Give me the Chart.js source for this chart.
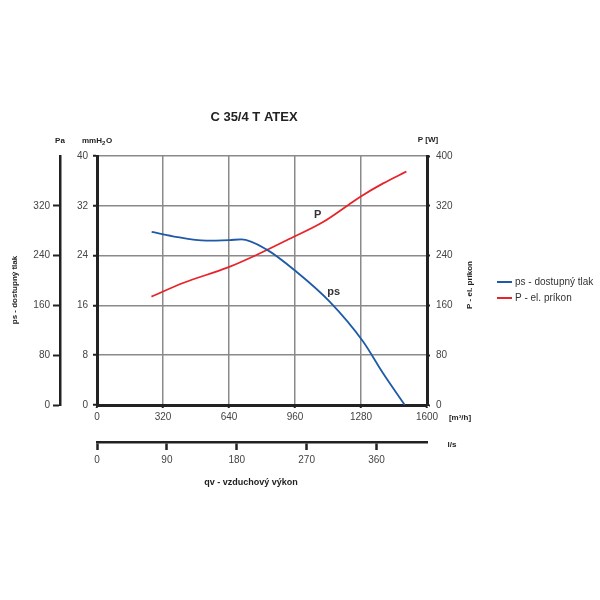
<!DOCTYPE html>
<html>
<head>
<meta charset="utf-8">
<script src="https://cdn.jsdelivr.net/npm/chart.js@4.4.1/dist/chart.umd.min.js"></script>
<style>
  html, body { margin: 0; padding: 0; background: #fff; }
  #wrap { width: 600px; height: 600px; }
</style>
</head>
<body>
<div id="wrap"><canvas id="fanChart" width="600" height="600"></canvas></div>
<script>
// ── Data ──────────────────────────────────────────────────────────
const FLOW_PS = [265, 368, 530, 643, 700, 821, 967, 1128, 1290, 1387, 1492];   // m3/h
const PS_MMH2O = [27.8, 27.1, 26.4, 26.5, 26.6, 25.0, 21.4, 16.6, 10.2, 5.1, 0];
const FLOW_P = [264, 417, 635, 773, 934, 1096, 1217, 1279, 1387, 1500];       // m3/h
const P_WATT = [174, 196, 221, 241, 267, 294, 321, 335, 356, 375];

const FLOW_TICKS = [0, 320, 640, 960, 1280, 1600];
const LS_TICKS = [0, 90, 180, 270, 360];
const MM_TICKS = [0, 8, 16, 24, 32, 40];
const PA_TICKS = [0, 80, 160, 240, 320];
const W_TICKS = [0, 80, 160, 240, 320, 400];

const BLUE = '#1f5aa8';
const RED = '#e8242b';
const INK = '#222';
const GRID = '#8a8a8a';
const FONT = '"Liberation Sans", Arial, sans-serif';

const toPoints = (xs, ys) => xs.map((x, i) => ({ x, y: ys[i] }));
const fixedTicks = list => scale => { scale.ticks = list.map(v => ({ value: v })); };
const plain = v => String(v);

// axis sizes so the plot box sits where the sheet has it
const fixWidth = w => scale => { scale.width = w; };
const fixHeight = h => scale => { scale.height = h; };

// ── Texts that are not part of any axis ───────────────────────────
const sheetText = {
    id: 'sheetText',
    afterDraw(chart) {
        const ctx = chart.ctx;
        const { x, y, y2 } = chart.scales;
        ctx.save();
        ctx.fillStyle = INK;
        ctx.textAlign = 'center';
        ctx.textBaseline = 'middle';

        ctx.font = `bold 13px ${FONT}`;
        ctx.fillText('C 35/4 T ATEX', 254, 117);

        ctx.font = `bold 8px ${FONT}`;
        ctx.fillText('Pa', 60, 141);
        ctx.fillText('P [W]', 428, 140);
        // mmH2O with subscript
        ctx.textAlign = 'left';
        ctx.fillText('mmH', 82, 141);
        const w = ctx.measureText('mmH').width;
        ctx.font = `bold 6px ${FONT}`;
        ctx.fillText('2', 82 + w, 143);
        ctx.font = `bold 8px ${FONT}`;
        ctx.fillText('O', 82 + w + 4, 141);

        ctx.textAlign = 'center';
        ctx.fillText('[m\u00b3/h]', 460, 418);
        ctx.fillText('l/s', 452, 445);
        ctx.font = `bold 9px ${FONT}`;
        ctx.fillText('qv - vzduchov\u00fd v\u00fdkon', 251, 483);

        // rotated side titles
        ctx.font = `bold 8px ${FONT}`;
        ctx.save();
        ctx.translate(15, 290);
        ctx.rotate(-Math.PI / 2);
        ctx.fillText('ps - dostupn\u00fd tlak', 0, 0);
        ctx.restore();
        ctx.save();
        ctx.translate(470, 285);
        ctx.rotate(-Math.PI / 2);
        ctx.fillText('P - el. pr\u00edkon', 0, 0);
        ctx.restore();

        // curve names
        ctx.font = `bold 11px ${FONT}`;
        ctx.fillStyle = '#333';
        ctx.fillText('P', x.getPixelForValue(1070), y2.getPixelForValue(305));
        ctx.fillText('ps', x.getPixelForValue(1148), y.getPixelForValue(18.1));

        // legend
        const items = [['ps - dostupn\u00fd tlak', BLUE], ['P - el. pr\u00edkon', RED]];
        ctx.font = `10px ${FONT}`;
        ctx.textAlign = 'left';
        items.forEach(([label, color], i) => {
            const ly = 282 + i * 16;
            ctx.strokeStyle = color;
            ctx.lineWidth = 2;
            ctx.beginPath();
            ctx.moveTo(497, ly);
            ctx.lineTo(512, ly);
            ctx.stroke();
            ctx.fillStyle = '#333';
            ctx.fillText(label, 515, ly);
        });
        ctx.restore();
    }
};

const tickFont = { family: FONT, size: 10 };

new Chart(document.getElementById('fanChart'), {
    type: 'line',
    data: {
        datasets: [
            {
                label: 'ps - dostupný tlak', data: toPoints(FLOW_PS, PS_MMH2O), yAxisID: 'y',
                borderColor: BLUE, borderWidth: 1.8, pointRadius: 0, cubicInterpolationMode: 'monotone'
            },
            {
                label: 'P - el. príkon', data: toPoints(FLOW_P, P_WATT), yAxisID: 'y2',
                borderColor: RED, borderWidth: 1.8, pointRadius: 0, cubicInterpolationMode: 'monotone'
            }
        ]
    },
    options: {
        responsive: false,
        animation: false,
        layout: { padding: { left: 20, right: 0, top: 156, bottom: 118 } },
        plugins: { legend: { display: false }, tooltip: { enabled: false } },
        scales: {
            x: {
                type: 'linear', position: 'bottom', weight: 0, min: 0, max: 1600,
                afterBuildTicks: fixedTicks(FLOW_TICKS),
                afterFit: fixHeight(37),
                ticks: { color: '#444', font: tickFont, padding: 3, maxRotation: 0, callback: plain },
                grid: { color: GRID, lineWidth: 1.5, tickColor: INK, tickLength: 3, tickWidth: 2 },
                border: { color: INK, width: 3 }
            },
            xls: {
                type: 'linear', position: 'bottom', weight: 1, min: 0, max: 425,
                afterBuildTicks: fixedTicks(LS_TICKS),
                afterFit: fixHeight(40),
                ticks: { color: '#444', font: tickFont, padding: 4, maxRotation: 0, callback: plain },
                grid: { drawOnChartArea: false, tickColor: INK, tickLength: 8, tickWidth: 2.5 },
                border: { color: INK, width: 2.5 }
            },
            y: {
                type: 'linear', position: 'left', weight: 0, min: 0, max: 40,
                afterBuildTicks: fixedTicks(MM_TICKS),
                afterFit: fixWidth(37),
                ticks: { color: '#444', font: tickFont, padding: 5, callback: plain },
                grid: { color: GRID, lineWidth: 1.5, tickColor: INK, tickLength: 4, tickWidth: 2 },
                border: { color: INK, width: 3 }
            },
            pa: {
                type: 'linear', position: 'left', weight: 1, min: 0, max: 400,
                afterBuildTicks: fixedTicks(PA_TICKS),
                afterFit: fixWidth(40),
                ticks: { color: '#444', font: tickFont, padding: 3, callback: plain },
                grid: { drawOnChartArea: false, tickColor: INK, tickLength: 7, tickWidth: 2 },
                border: { color: INK, width: 2.5 }
            },
            y2: {
                type: 'linear', position: 'right', min: 0, max: 400,
                afterBuildTicks: fixedTicks(W_TICKS),
                afterFit: fixWidth(173),
                ticks: { color: '#444', font: tickFont, padding: 6, callback: plain },
                grid: { drawOnChartArea: false, tickColor: INK, tickLength: 3, tickWidth: 2 },
                border: { color: INK, width: 3 }
            }
        }
    },
    plugins: [sheetText]
});
</script>
</body>
</html>
